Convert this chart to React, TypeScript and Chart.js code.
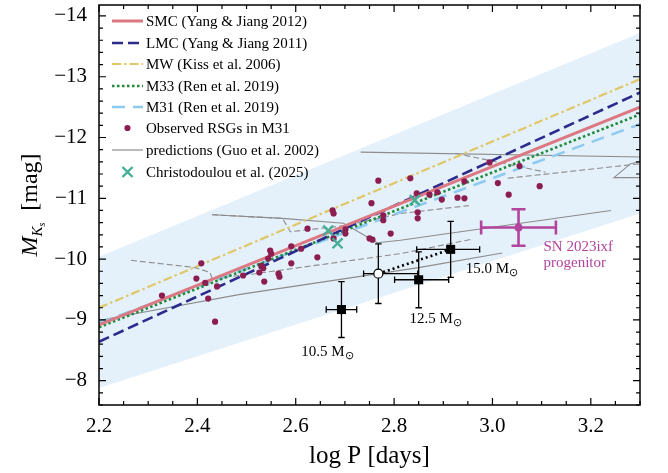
import React, { useEffect, useRef } from 'react';
import { Chart, registerables } from 'chart.js';

Chart.register(...registerables);

const SERIF = '"Liberation Serif", "Times New Roman", serif';

// axis ranges and labelled ticks
const xRange = [2.2, 3.3];
const yRange = [-14.18, -7.6];
const xTickValues = [2.2, 2.4, 2.6, 2.8, 3.0, 3.2];
const yTickValues = [-14, -13, -12, -11, -10, -9, -8];

// period-luminosity relations, evaluated at both ends of the log P range
const fitLogP = [2.2, 3.3];
const smcMag = [-8.92, -12.5];
const lmcMag = [-8.64, -12.74];
const mwMag = [-9.2, -12.96];
const m33Mag = [-8.88, -12.38];
const m31Mag = [-8.95, -12.22];

// shaded scatter band
const bandUpper = [-10.04, -13.72];
const bandLower = [-7.88, -10.75];

// observed red supergiants in M31
const rsgLogP = [
  2.328, 2.408, 2.398, 2.416, 2.44, 2.422, 2.436, 2.493, 2.526, 2.53, 2.534, 2.536,
  2.544, 2.548, 2.55, 2.565, 2.567, 2.591, 2.591, 2.611, 2.644, 2.624, 2.675, 2.677,
  2.701, 2.701, 2.677, 2.754, 2.768, 2.778, 2.778, 2.793, 2.75, 2.756, 2.833, 2.846,
  2.848, 2.848, 2.872, 2.888, 2.897, 2.929, 2.943, 2.943, 2.994, 3.011, 3.033, 3.055,
  3.096,
];
const rsgMag = [
  -9.4, -9.93, -9.68, -9.61, -9.55, -9.35, -8.97, -9.73, -9.78, -9.89, -9.85, -9.63,
  -10.01, -10.14, -10.09, -9.76, -9.71, -10.21, -9.93, -10.17, -10.03, -10.5, -10.8, -10.75,
  -10.49, -10.42, -10.34, -10.92, -11.29, -10.72, -10.64, -10.42, -10.34, -10.32, -11.33, -11.08,
  -10.77, -10.67, -11.06, -11.1, -10.98, -11.01, -11.28, -11.0, -11.59, -11.25, -11.06, -11.53,
  -11.2,
];

// Christodoulou et al. (2025)
const chrLogP = [2.666, 2.685, 2.842];
const chrMag = [-10.47, -10.26, -10.97];

// model progenitors with masses
const modelMass = ['10.5', '12.5', '15.0'];
const modelLogP = [2.693, 2.85, 2.915];
const modelMag = [-9.17, -9.66, -10.16];
const modelErrLogPLo = [0.031, 0.049, 0.069];
const modelErrLogPHi = [0.031, 0.061, 0.059];
const modelErrMag = [0.46, 0.46, 0.46];

// open-circle estimate
const openLogP = [2.768];
const openMag = [-9.76];
const openErrLogPLo = [0.03];
const openErrLogPHi = [0.08];
const openErrMag = [0.49];

// SN 2023ixf progenitor
const snLogP = [3.053];
const snMag = [-10.52];
const snErrLogP = [0.076];
const snErrMag = [0.3];

// evolutionary-track predictions (Guo et al. 2002)
const trackSolidA = [[2.202, -8.99], [2.218, -9.02], [2.487, -9.42], [2.85, -9.86], [3.02, -10.1]];
const trackDashedA = [[2.265, -9.98], [2.396, -9.86], [2.426, -9.78], [2.43, -9.68], [2.518, -9.76], [2.813, -10.09], [2.96, -10.33]];
const trackSolidB = [[2.43, -10.73], [2.573, -10.67], [2.697, -10.59], [2.766, -10.27], [2.813, -10.31], [3.241, -10.8]];
const trackDashedB = [[2.43, -10.73], [2.573, -10.67], [2.589, -10.45], [2.7, -10.55], [2.813, -10.75], [2.952, -10.88]];
const trackSolidC = [[2.732, -11.76], [3.302, -11.68]];
const trackDashedC = [[2.925, -11.74], [3.108, -11.43]];
const trackDashedD = [[3.031, -11.33], [3.302, -11.57]];
const trackHookA = [[3.302, -11.61], [3.281, -11.57], [3.247, -11.34], [3.302, -11.34]];

const COLORS = {
  band: '#e4f0fa',
  smc: '#dc7882',
  lmc: '#2c2a8c',
  mw: '#e0c768',
  m33: '#1f8a3a',
  m31: '#8ccbef',
  rsg: '#8c1d50',
  track: '#8c8c8c',
  chr: '#45ae96',
  sn: '#b2449e',
};

const pts = (xs: number[], ys: number[]) => xs.map((x, i) => ({ x, y: ys[i] }));
const pairPts = (arr: number[][]) => arr.map(([x, y]) => ({ x, y }));

const lineSet = (label: string, data: any[], color: string, width: number, dash: number[]) => ({
  type: 'line',
  label,
  data,
  borderColor: color,
  backgroundColor: color,
  borderWidth: width,
  borderDash: dash,
  pointRadius: 0,
  fill: false,
  tension: 0,
  showLine: true,
});

const datasets: any[] = [
  {
    type: 'line', label: 'band-upper', data: pts(fitLogP, bandUpper), borderWidth: 0,
    pointRadius: 0, fill: '+1', backgroundColor: COLORS.band, borderColor: 'rgba(0,0,0,0)',
  },
  {
    type: 'line', label: 'band-lower', data: pts(fitLogP, bandLower), borderWidth: 0,
    pointRadius: 0, fill: false, borderColor: 'rgba(0,0,0,0)',
  },
  lineSet('track-1', pairPts(trackSolidA), COLORS.track, 1.1, []),
  lineSet('track-2', pairPts(trackDashedA), COLORS.track, 1.1, [6, 3]),
  lineSet('track-3', pairPts(trackSolidB), COLORS.track, 1.1, []),
  lineSet('track-4', pairPts(trackDashedB), COLORS.track, 1.1, [6, 3]),
  lineSet('track-5', pairPts(trackSolidC), COLORS.track, 1.1, []),
  lineSet('track-6', pairPts(trackDashedC), COLORS.track, 1.1, [6, 3]),
  lineSet('track-7', pairPts(trackDashedD), COLORS.track, 1.1, [6, 3]),
  lineSet('track-8', pairPts(trackHookA), COLORS.track, 1.1, []),
  lineSet('M31 (Ren et al. 2019)', pts(fitLogP, m31Mag), COLORS.m31, 2.6, [13, 8]),
  lineSet('M33 (Ren et al. 2019)', pts(fitLogP, m33Mag), COLORS.m33, 2.6, [2.5, 2.5]),
  lineSet('MW (Kiss et al. 2006)', pts(fitLogP, mwMag), COLORS.mw, 2.2, [9, 3, 2.5, 3]),
  lineSet('LMC (Yang & Jiang 2011)', pts(fitLogP, lmcMag), COLORS.lmc, 2.6, [11, 5]),
  lineSet('SMC (Yang & Jiang 2012)', pts(fitLogP, smcMag), COLORS.smc, 3, []),
  {
    type: 'line', label: 'Observed RSGs in M31', data: pts(rsgLogP, rsgMag), showLine: false,
    pointRadius: 3.1, pointBackgroundColor: COLORS.rsg, pointBorderWidth: 0, borderColor: COLORS.rsg,
  },
  {
    type: 'line', label: 'Christodoulou et al. (2025)', data: pts(chrLogP, chrMag), showLine: false,
    pointStyle: 'crossRot', pointRadius: 7, pointBorderWidth: 2.4, pointBorderColor: COLORS.chr, borderColor: COLORS.chr,
  },
  {
    type: 'line', label: 'model-link', data: [{ x: openLogP[0], y: openMag[0] }, { x: modelLogP[2], y: modelMag[2] }],
    borderColor: '#000', borderWidth: 2.6, borderDash: [2, 3], pointRadius: 0, fill: false,
  },
  {
    type: 'line', label: 'models', data: pts(modelLogP, modelMag), showLine: false,
    pointStyle: 'rect', pointRadius: 6.4, pointBackgroundColor: '#000', pointBorderWidth: 0, borderColor: '#000',
  },
  {
    type: 'line', label: 'open', data: pts(openLogP, openMag), showLine: false,
    pointStyle: 'circle', pointRadius: 4.5, pointBackgroundColor: '#fff', pointBorderColor: '#000', pointBorderWidth: 1.2,
  },
  {
    type: 'line', label: 'sn', data: pts(snLogP, snMag), showLine: false,
    pointRadius: 4, pointBackgroundColor: COLORS.sn, pointBorderWidth: 0, borderColor: COLORS.sn,
  },
];
datasets.forEach((d, i) => { d.order = 100 - i; });

const legendOrder = [
  'SMC (Yang & Jiang 2012)',
  'LMC (Yang & Jiang 2011)',
  'MW (Kiss et al. 2006)',
  'M33 (Ren et al. 2019)',
  'M31 (Ren et al. 2019)',
  'Observed RSGs in M31',
  'predictions (Guo et al. 2002)',
  'Christodoulou et al. (2025)',
];

function errorBar(ctx: CanvasRenderingContext2D, xs: any, ys: any, x: number, y: number,
  xlo: number, xhi: number, ylo: number, yhi: number, cap: number) {
  const px = xs.getPixelForValue(x);
  const py = ys.getPixelForValue(y);
  const x1 = xs.getPixelForValue(x - xlo);
  const x2 = xs.getPixelForValue(x + xhi);
  const y1 = ys.getPixelForValue(y - ylo);
  const y2 = ys.getPixelForValue(y + yhi);
  ctx.beginPath();
  ctx.moveTo(x1, py); ctx.lineTo(x2, py);
  ctx.moveTo(px, y1); ctx.lineTo(px, y2);
  ctx.moveTo(x1, py - cap); ctx.lineTo(x1, py + cap);
  ctx.moveTo(x2, py - cap); ctx.lineTo(x2, py + cap);
  ctx.moveTo(px - cap, y1); ctx.lineTo(px + cap, y1);
  ctx.moveTo(px - cap, y2); ctx.lineTo(px + cap, y2);
  ctx.stroke();
}

const errorBarPlugin = {
  id: 'errorBars',
  afterDatasetDraw(chart: any, args: any) {
    const ds = chart.data.datasets[args.index];
    if (ds.label !== 'Christodoulou et al. (2025)') return;
    const { ctx, scales } = chart;
    const xs = scales.x;
    const ys = scales.y;
    ctx.save();
    ctx.strokeStyle = '#000';
    ctx.lineWidth = 1.3;
    ctx.setLineDash([]);
    modelLogP.forEach((x, i) => errorBar(ctx, xs, ys, x, modelMag[i], modelErrLogPLo[i], modelErrLogPHi[i], modelErrMag[i], modelErrMag[i], 3.2));
    openLogP.forEach((x, i) => errorBar(ctx, xs, ys, x, openMag[i], openErrLogPLo[i], openErrLogPHi[i], openErrMag[i], openErrMag[i], 3.2));
    ctx.strokeStyle = COLORS.sn;
    ctx.lineWidth = 2.6;
    snLogP.forEach((x, i) => errorBar(ctx, xs, ys, x, snMag[i], snErrLogP[i], snErrLogP[i], snErrMag[i], snErrMag[i], 7));
    ctx.restore();
  },
};

function drawSunLabel(ctx: CanvasRenderingContext2D, text: string, x: number, y: number, align: 'left' | 'center') {
  const main = `${text} M`;
  ctx.font = `15px ${SERIF}`;
  const w1 = ctx.measureText(main).width;
  ctx.font = `11px ${SERIF}`;
  const w2 = ctx.measureText('\u2299').width;
  const start = align === 'center' ? x - (w1 + w2) / 2 : x;
  ctx.textAlign = 'left';
  ctx.textBaseline = 'alphabetic';
  ctx.font = `15px ${SERIF}`;
  ctx.fillText(main, start, y);
  ctx.font = `11px ${SERIF}`;
  ctx.fillText('\u2299', start + w1 + 0.5, y + 3);
}

const decorPlugin = {
  id: 'decor',
  afterDraw(chart: any) {
    const { ctx, chartArea: a, scales } = chart;
    const xs = scales.x;
    const ys = scales.y;
    ctx.save();
    ctx.setLineDash([]);

    // frame and inward ticks on all four sides
    ctx.strokeStyle = '#000';
    ctx.lineWidth = 1.5;
    ctx.strokeRect(a.left, a.top, a.right - a.left, a.bottom - a.top);
    ctx.lineWidth = 1.2;
    ctx.beginPath();
    for (let v = 2.2; v <= 3.3001; v += 0.05) {
      const major = Math.abs(Math.round(v * 10) - v * 10) < 1e-6 && Math.round(v * 10) % 2 === 0;
      const len = major ? 7 : 4;
      const px = xs.getPixelForValue(v);
      ctx.moveTo(px, a.bottom); ctx.lineTo(px, a.bottom - len);
      ctx.moveTo(px, a.top); ctx.lineTo(px, a.top + len);
    }
    for (let v = -14.0; v <= -7.6; v += 0.2) {
      const major = Math.abs(v - Math.round(v)) < 1e-6;
      const len = major ? 7 : 4;
      const py = ys.getPixelForValue(v);
      ctx.moveTo(a.left, py); ctx.lineTo(a.left + len, py);
      ctx.moveTo(a.right, py); ctx.lineTo(a.right - len, py);
    }
    ctx.stroke();

    // axis titles
    ctx.fillStyle = '#000';
    ctx.font = `25px ${SERIF}`;
    ctx.textAlign = 'center';
    ctx.textBaseline = 'alphabetic';
    ctx.fillText('log P [days]', (a.left + a.right) / 2, 463);

    ctx.save();
    ctx.translate(37, (a.top + a.bottom) / 2);
    ctx.rotate(-Math.PI / 2);
    const parts = [
      { t: 'M', f: `italic 24px ${SERIF}`, dy: 0 },
      { t: 'K', f: `italic 15px ${SERIF}`, dy: 5 },
      { t: 's', f: `italic 10px ${SERIF}`, dy: 8 },
      { t: '  [mag]', f: `24px ${SERIF}`, dy: 0 },
    ];
    let total = 0;
    parts.forEach((p) => { ctx.font = p.f; total += ctx.measureText(p.t).width; });
    let cx = -total / 2;
    ctx.textAlign = 'left';
    parts.forEach((p) => {
      ctx.font = p.f;
      ctx.fillText(p.t, cx, p.dy);
      cx += ctx.measureText(p.t).width;
    });
    ctx.restore();

    // model mass labels
    ctx.fillStyle = '#000';
    const m0x = xs.getPixelForValue(modelLogP[0]);
    const m0y = ys.getPixelForValue(modelMag[0]);
    drawSunLabel(ctx, modelMass[0], m0x - 14, m0y + 46, 'center');
    const m1x = xs.getPixelForValue(modelLogP[1]);
    const m1y = ys.getPixelForValue(modelMag[1]);
    drawSunLabel(ctx, modelMass[1], m1x + 17, m1y + 43, 'center');
    const m2x = xs.getPixelForValue(modelLogP[2]);
    const m2y = ys.getPixelForValue(modelMag[2]);
    drawSunLabel(ctx, modelMass[2], m2x + 15, m2y + 24, 'left');

    // SN label
    const sx = xs.getPixelForValue(snLogP[0]);
    const sy = ys.getPixelForValue(snMag[0]);
    ctx.fillStyle = COLORS.sn;
    ctx.font = `15px ${SERIF}`;
    ctx.textAlign = 'left';
    ctx.fillText('SN 2023ixf', sx + 25, sy + 24);
    ctx.fillText('progenitor', sx + 25, sy + 40);

    // legend
    const lx0 = 112;
    const lx1 = 143;
    const tx = 146;
    const rowY = [21, 43, 64, 86, 107, 128, 150, 172];
    legendOrder.forEach((label, i) => {
      const y = rowY[i];
      const ds = chart.data.datasets.find((d: any) => d.label === label);
      ctx.save();
      if (label === 'Observed RSGs in M31') {
        ctx.fillStyle = COLORS.rsg;
        ctx.beginPath();
        ctx.arc((lx0 + lx1) / 2, y, 3.1, 0, Math.PI * 2);
        ctx.fill();
      } else if (label === 'Christodoulou et al. (2025)') {
        ctx.strokeStyle = COLORS.chr;
        ctx.lineWidth = 2.4;
        const c = (lx0 + lx1) / 2;
        const r = 5;
        ctx.beginPath();
        ctx.moveTo(c - r, y - r); ctx.lineTo(c + r, y + r);
        ctx.moveTo(c - r, y + r); ctx.lineTo(c + r, y - r);
        ctx.stroke();
      } else if (label === 'predictions (Guo et al. 2002)') {
        ctx.strokeStyle = COLORS.track;
        ctx.lineWidth = 1.2;
        ctx.beginPath();
        ctx.moveTo(lx0, y); ctx.lineTo(lx1, y);
        ctx.stroke();
      } else if (ds) {
        ctx.strokeStyle = ds.borderColor;
        ctx.lineWidth = ds.borderWidth;
        ctx.setLineDash(ds.borderDash || []);
        ctx.beginPath();
        ctx.moveTo(lx0, y); ctx.lineTo(lx1, y);
        ctx.stroke();
      }
      ctx.restore();
      ctx.fillStyle = '#000';
      ctx.font = `15px ${SERIF}`;
      ctx.textAlign = 'left';
      ctx.textBaseline = 'middle';
      ctx.fillText(label, tx, y + 1);
    });
    ctx.restore();
  },
};

export default function App() {
  const ref = useRef<HTMLCanvasElement>(null);
  useEffect(() => {
    const canvas = ref.current;
    if (!canvas) return;
    const chart = new Chart(canvas, {
      type: 'line',
      data: { datasets },
      options: {
        animation: false,
        responsive: false,
        devicePixelRatio: 1,
        layout: { autoPadding: false, padding: { top: 5, right: 28, left: 0, bottom: 0 } },
        plugins: { legend: { display: false }, tooltip: { enabled: false } },
        scales: {
          x: {
            type: 'linear',
            min: xRange[0],
            max: xRange[1],
            grid: { display: false, drawTicks: false },
            border: { display: false },
            afterBuildTicks: (axis: any) => { axis.ticks = xTickValues.map((value) => ({ value })); },
            afterFit: (axis: any) => {
              axis.height = 68;
              axis.paddingLeft = 0;
              axis.paddingRight = 0;
              axis.paddingTop = 0;
              axis.paddingBottom = 0;
            },
            ticks: {
              padding: 9,
              color: '#000',
              font: { family: SERIF, size: 21 },
              maxRotation: 0,
              autoSkip: false,
              callback: (v: any) => Number(v).toFixed(1),
            },
          },
          y: {
            type: 'linear',
            reverse: true,
            min: yRange[0],
            max: yRange[1],
            grid: { display: false, drawTicks: false },
            border: { display: false },
            afterBuildTicks: (axis: any) => { axis.ticks = yTickValues.map((value) => ({ value })); },
            afterFit: (axis: any) => {
              axis.width = 99;
              axis.paddingLeft = 0;
              axis.paddingRight = 0;
              axis.paddingTop = 0;
              axis.paddingBottom = 0;
            },
            ticks: {
              padding: 12,
              color: '#000',
              font: { family: SERIF, size: 21 },
              autoSkip: false,
              callback: (v: any) => (Number(v) < 0 ? '\u2212' + Math.abs(Number(v)) : String(v)),
            },
          },
        },
      } as any,
      plugins: [errorBarPlugin, decorPlugin],
    });
    return () => chart.destroy();
  }, []);
  return (
    <div style={{ position: 'absolute', left: 0, top: 0, width: 668, height: 473, background: '#fff' }}>
      <canvas ref={ref} width={668} height={473} style={{ width: 668, height: 473, display: 'block' }} />
    </div>
  );
}
